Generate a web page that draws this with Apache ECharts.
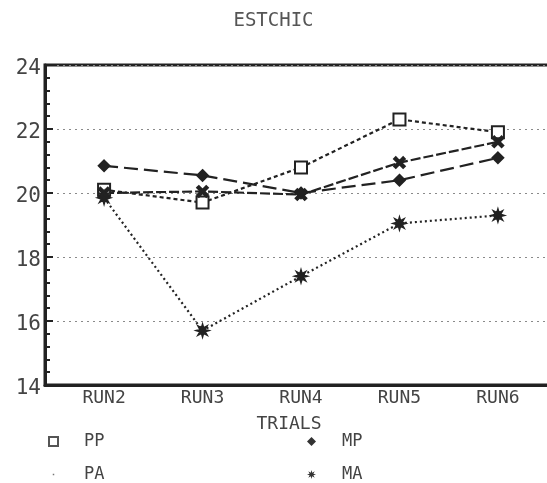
<!DOCTYPE html>
<html>
<head>
<meta charset="utf-8">
<script src="https://cdn.jsdelivr.net/npm/echarts@6/dist/echarts.min.js"></script>
<style>
  html, body { margin: 0; padding: 0; background: #fff; }
  #chart { width: 547px; height: 483px; }
</style>
</head>
<body>
<div id="chart"></div>
<script>
// Trial runs along the x axis
const categories = ['RUN2', 'RUN3', 'RUN4', 'RUN5', 'RUN6'];

// ESTCHIC values per group
const ppValues = [20.1, 19.7, 20.8, 22.3, 21.9];
const paValues = [20.0, 20.05, 19.95, 20.95, 21.6];
const mpValues = [20.85, 20.55, 20.0, 20.4, 21.1];
const maValues = [19.85, 15.7, 17.4, 19.05, 19.3];

const yTicks = [14, 16, 18, 20, 22, 24];

const FONT = 'DejaVu Sans Mono';
const INK = '#222';
const TEXT = '#444';

// Symbol shapes
const xMark = 'path://M0,2 L2,0 L6,4 L10,0 L12,2 L8,6 L12,10 L10,12 L6,8 L2,12 L0,10 L4,6 Z';
function starPath(points, outer, inner) {
  let d = '';
  for (let i = 0; i < points * 2; i++) {
    const r = i % 2 === 0 ? outer : inner;
    const a = (Math.PI * i) / points - Math.PI / 2;
    const x = (outer + r * Math.cos(a)).toFixed(2);
    const y = (outer + r * Math.sin(a)).toFixed(2);
    d += (i === 0 ? 'M' : 'L') + x + ',' + y + ' ';
  }
  return 'path://' + d + 'Z';
}
const asterisk = starPath(8, 10, 4.5);
const dot = 'path://M0,0 M12,12 M5,5 h2 v2 h-2 Z';

const toPoints = vals => vals.map((v, i) => [i + 1, v]);

function lineSeries(name, vals, symbol, size, dash) {
  return {
    name: name,
    type: 'line',
    data: toPoints(vals),
    symbol: symbol,
    symbolSize: size,
    showSymbol: true,
    lineStyle: { color: INK, width: 2.2, type: dash },
    itemStyle: { color: INK, borderColor: INK, borderWidth: 1.8 },
    emphasis: { disabled: true },
    z: 3
  };
}

const legendText = { fontFamily: FONT, fontSize: 17, color: TEXT, lineHeight: 16, padding: [0, 0, 0, 21] };

const chart = echarts.init(document.getElementById('chart'));
chart.setOption({
  animation: false,
  backgroundColor: '#fff',
  title: {
    text: 'ESTCHIC',
    left: 'center',
    top: 7,
    textStyle: { fontFamily: FONT, fontSize: 19, fontWeight: 'normal', color: '#555' }
  },
  grid: {
    left: 45, top: 65, width: 512, height: 320,
    outerBoundsMode: 'none',
    containLabel: false,
    show: true, borderColor: INK, borderWidth: 3, backgroundColor: 'transparent'
  },
  xAxis: {
    type: 'value',
    min: 0.4,
    max: 5.6,
    name: 'TRIALS',
    nameLocation: 'middle',
    nameGap: 30,
    nameTextStyle: { fontFamily: FONT, fontSize: 18, color: TEXT, padding: [0, 24, 0, 0] },
    axisLine: { show: true, onZero: false, lineStyle: { color: INK, width: 3 } },
    axisTick: { show: false },
    splitLine: { show: false },
    axisLabel: {
      customValues: [1, 2, 3, 4, 5],
      formatter: v => categories[Math.round(v) - 1] || '',
      fontFamily: FONT, fontSize: 18, color: TEXT, margin: 4
    }
  },
  yAxis: {
    type: 'value',
    min: yTicks[0],
    max: yTicks[yTicks.length - 1],
    interval: 2,
    axisLine: { show: true, lineStyle: { color: INK, width: 3 } },
    axisTick: { show: true, inside: true, length: 8, lineStyle: { color: INK, width: 2 } },
    minorTick: { show: true, splitNumber: 5, length: 5, lineStyle: { color: INK, width: 2 } },
    splitLine: { show: true, lineStyle: { color: '#8a8a8a', type: [2, 4], width: 1.2 } },
    axisLabel: {
      customValues: yTicks,
      fontFamily: FONT, fontSize: 21, color: TEXT, margin: 4,
      verticalAlign: 'top', lineHeight: 8
    }
  },
  legend: [
    {
      orient: 'vertical',
      left: 48, top: 433, padding: 0,
      itemWidth: 9, itemHeight: 9, itemGap: 16,
      selectedMode: false,
      textStyle: legendText,
      data: [
        { name: 'PP', icon: 'emptyRect', itemStyle: { color: '#555', borderColor: '#555', borderWidth: 1.5 } },
        { name: 'PA', icon: dot, itemStyle: { color: '#777', borderWidth: 0 } }
      ]
    },
    {
      orient: 'vertical',
      left: 307, top: 433, padding: 0,
      itemWidth: 9, itemHeight: 9, itemGap: 16,
      selectedMode: false,
      textStyle: legendText,
      data: [
        { name: 'MP', icon: 'diamond', itemStyle: { color: '#333', borderWidth: 0 } },
        { name: 'MA', icon: asterisk, itemStyle: { color: '#333', borderWidth: 0 } }
      ]
    }
  ],
  series: [
    lineSeries('PP', ppValues, 'emptyRect', 12, [4, 3]),
    lineSeries('PA', paValues, xMark, 11, [10, 3]),
    lineSeries('MP', mpValues, 'diamond', 11, [14, 6]),
    lineSeries('MA', maValues, asterisk, 12, [2, 3])
  ]
});
</script>
</body>
</html>
